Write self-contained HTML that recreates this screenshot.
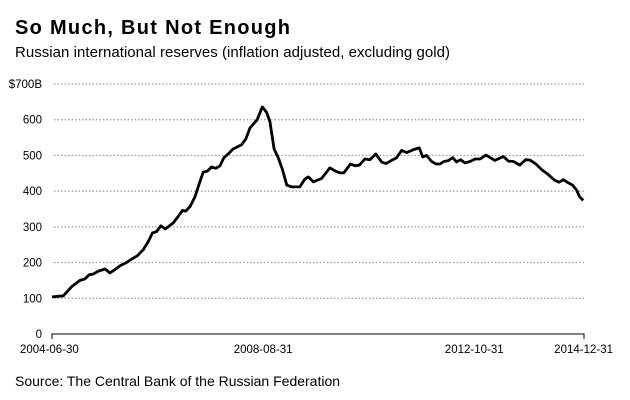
<!DOCTYPE html>
<html><head><meta charset="utf-8"><style>
body{margin:0;background:#fff;width:630px;height:400px;overflow:hidden}
svg{display:block;font-family:"Liberation Sans",sans-serif}
</style></head><body>
<svg id="chart" width="630" height="400">
<text x="15" y="34" font-size="20" font-weight="bold" textLength="275">So Much, But Not Enough</text>
<text x="15" y="57" font-size="15" textLength="435">Russian international reserves (inflation adjusted, excluding gold)</text>
<text x="15" y="386" font-size="14">Source: The Central Bank of the Russian Federation</text>
<g id="grid"></g>
<g id="yax"></g>
<g id="xax"></g>
<g id="plot"></g>
</svg>
<script>
const months = [0,2.7,4.7,6.6,7.8,8.8,9.8,11.0,12.6,13.7,14.9,16.1,17.5,18.9,20.2,21.6,22.8,23.8,24.8,25.8,26.8,27.5,28.7,29.9,30.9,31.7,32.7,33.9,34.8,35.8,36.8,37.8,38.8,39.8,40.7,41.8,42.9,43.9,44.9,45.9,46.9,47.8,48.6,49.8,50.8,51.6,52.6,53.6,54.6,55.6,56.8,58.7,59.9,60.7,61.9,63.9,65.8,67.0,68.2,69.1,70.7,71.8,72.8,74.1,75.3,76.7,78.1,79.1,80.4,81.6,82.8,84.0,85.6,87.0,87.8,88.7,89.9,91.0,91.9,92.8,93.8,94.9,95.8,96.8,97.8,99.0,100.2,101.4,102.8,103.9,104.9,106.9,108.1,109.3,110.8,112.2,113.2,114.6,116.0,117.5,119.1,120.1,121.1,122.3,123.3,124.3,124.9,125.8];
const reserves = [104,107,133,150,154,166,168,176,182,171,180,191,199,210,219,236,259,283,287,303,294,300,311,329,346,344,357,385,418,453,456,468,464,471,493,505,518,524,530,546,577,589,600,636,621,595,518,493,460,417,412,412,434,440,426,436,465,457,451,451,476,471,473,490,488,504,481,477,486,493,514,508,516,521,496,500,483,476,476,483,485,494,482,488,479,483,490,490,501,493,486,497,484,483,473,488,487,476,460,447,430,425,432,423,417,402,385,374];
const yTicks = [0,100,200,300,400,500,600,700];
const yTickLabels = ["0","100","200","300","400","500","600","$700B"];
const xTickMonths = [0,50,100,126];
const xTickLabels = ["2004-06-30","2008-08-31","2012-10-31","2014-12-31"];

const NS="http://www.w3.org/2000/svg";
const X0=52,X1=584,Y0=334,Y1=84;
const xs=m=>X0+(m/126)*(X1-X0);
const ys=v=>Y0-(v/700)*(Y0-Y1);
function mk(tag,attrs,parent){const e=document.createElementNS(NS,tag);for(const k in attrs)e.setAttribute(k,attrs[k]);parent.appendChild(e);return e;}
const grid=document.getElementById('grid'),yax=document.getElementById('yax'),xax=document.getElementById('xax'),plot=document.getElementById('plot');
yTicks.forEach((v,i)=>{
  if(v>0){const l=mk('line',{x1:X0+2,x2:X1,y1:ys(v),y2:ys(v),stroke:'#999','stroke-width':1.2,'stroke-dasharray':'1.5 2'},grid);
  
  }
  const t=mk('text',{x:42,y:ys(v)+4,'font-size':11.5,'text-anchor':'end'},yax);
  t.textContent=yTickLabels[i];
  
  
});
const ax=mk('line',{x1:X0,x2:X1,y1:Y0,y2:Y0,stroke:'#000','stroke-width':1},xax);


xTickMonths.forEach((m,i)=>{
  const last=i===xTickMonths.length-1;
  if(i===0||last){
    const tk=mk('line',{x1:xs(m),x2:xs(m),y1:Y0-0.5,y2:Y0+5,stroke:'#000','stroke-width':1},xax);
    
    
  }
  const anchor=i===0?'start':(last?'end':'middle');
  let tx=xs(m); if(i===0) tx=20; if(last) tx=613;
  const t=mk('text',{x:tx,y:353,'font-size':11.5,'text-anchor':anchor},xax);
  t.textContent=xTickLabels[i];
  
  
});
const d=months.map((m,i)=>(i?'L':'M')+xs(m).toFixed(1)+','+ys(reserves[i]).toFixed(1)).join('');
const p=mk('path',{d:d,fill:'none',stroke:'#000','stroke-width':2.8,'stroke-linejoin':'round'},plot);


</script>
</body></html>
